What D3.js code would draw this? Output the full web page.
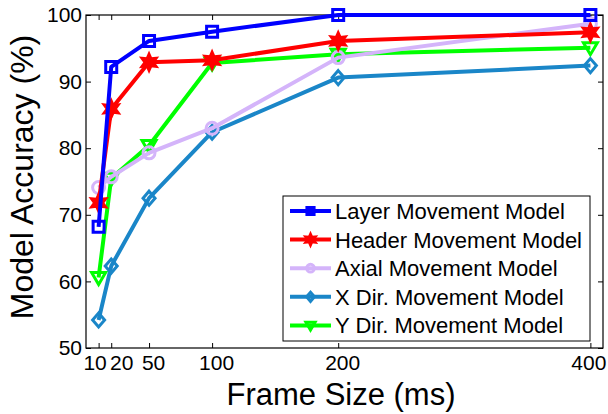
<!DOCTYPE html>
<html>
<head>
<meta charset="utf-8">
<script src="https://cdn.jsdelivr.net/npm/d3@7"></script>
<style>
body { margin: 0; background: #fff; }
text { font-family: "Liberation Sans", Arial, sans-serif; }
</style>
</head>
<body>
<div id="chart"></div>
<script>
// Data
var frameSizes = [10, 20, 50, 100, 200, 400];
var seriesNames = ["Layer Movement Model", "Header Movement Model", "Axial Movement Model", "X Dir. Movement Model", "Y Dir. Movement Model"];
var layerAcc = [68.2, 92.2, 96.1, 97.5, 100, 100];
var headerAcc = [71.8, 85.9, 92.9, 93.2, 96.1, 97.4];
var axialAcc = [74.1, 75.7, 79.3, 83.0, 93.6, 98.7];
var xDirAcc = [54.2, 62.3, 72.5, 82.4, 90.6, 92.4];
var yDirAcc = [60.6, 75.5, 80.4, 92.8, 94.1, 95.1];
var yTicks = [50, 60, 70, 80, 90, 100];

var colors = ["#0000ff", "#ff0000", "#d4b4fa", "#1a86c8", "#00ff00"];
var symbols = ["square", "star", "circle", "diamond", "triangle"];
var allSeries = [layerAcc, headerAcc, axialAcc, xDirAcc, yDirAcc];

var W = 608, H = 414;
var margin = {left: 86, right: 5, top: 15, bottom: 66};

var svg = d3.select("#chart").append("svg")
    .attr("width", W).attr("height", H);

var x = d3.scaleLinear().domain([0, 410]).range([margin.left, W - margin.right]);
var y = d3.scaleLinear().domain([50, 100]).range([H - margin.bottom, margin.top]);

// box + ticks
var g = svg.append("g");
g.append("rect")
    .attr("x", x(0)).attr("y", y(100))
    .attr("width", x(410) - x(0)).attr("height", y(50) - y(100))
    .attr("fill", "none").attr("stroke", "#000").attr("stroke-width", 1.2);

var xAxis = d3.axisBottom(x).tickValues(frameSizes).tickSize(-5).tickPadding(7).tickSizeOuter(0);
var yAxis = d3.axisLeft(y).tickValues(yTicks).tickSize(-5).tickPadding(4).tickSizeOuter(0);

var gx = g.append("g").attr("transform", "translate(0," + y(50) + ")").call(xAxis);
var gy = g.append("g").attr("transform", "translate(" + x(0) + ",0)").call(yAxis);
g.append("g").attr("transform", "translate(" + x(410) + ",0)")
    .call(d3.axisRight(y).tickValues(yTicks).tickSize(-5).tickFormat("").tickSizeOuter(0));
g.append("g").attr("transform", "translate(0," + y(100) + ")")
    .call(d3.axisTop(x).tickValues(frameSizes).tickSize(-5).tickFormat("").tickSizeOuter(0));

g.selectAll(".domain").remove();
g.selectAll(".tick line").attr("stroke", "#000").attr("stroke-width", 1);
gx.selectAll("text").attr("font-size", 21).attr("fill", "#000")
    .attr("dx", function(d) { return d == 10 ? -4 : d == 20 ? 10 : d == 400 ? -2 : 4; });
gy.selectAll("text").attr("font-size", 21).attr("fill", "#000");

// axis titles
svg.append("text")
    .attr("x", 341).attr("y", 405)
    .attr("text-anchor", "middle")
    .attr("font-size", 31)
    .text("Frame Size (ms)");
svg.append("text")
    .attr("transform", "translate(33,177) rotate(-90)")
    .attr("text-anchor", "middle")
    .attr("font-size", 32)
    .text("Model Accuracy (%)");

function starPath(ro, ri) {
    var pts = [];
    for (var k = 0; k < 12; k++) {
        var r = k % 2 == 0 ? ro : ri;
        var a = -Math.PI / 2 + k * Math.PI / 6;
        pts.push([r * Math.cos(a), r * Math.sin(a)]);
    }
    return "M" + pts.join("L") + "Z";
}

function markerPath(sym, k) {
    if (sym == "square") return "M" + (-5.5 * k) + "," + (-5.5 * k) + "h" + 11 * k + "v" + 11 * k + "h" + (-11 * k) + "Z";
    if (sym == "star") return starPath(8 * k, 4 * k);
    if (sym == "circle") return d3.arc()({innerRadius: 0, outerRadius: 6 * k, startAngle: 0, endAngle: 2 * Math.PI});
    if (sym == "diamond") return "M0," + (-7 * k) + "L" + 6 * k + ",0L0," + 7 * k + "L" + (-6 * k) + ",0Z";
    return "M" + (-7 * k) + "," + (-5 * k) + "L" + 7 * k + "," + (-5 * k) + "L0," + 7 * k + "Z";
}

var line = d3.line()
    .x(function(d, i) { return x(frameSizes[i]); })
    .y(function(d) { return y(d); });

var plot = svg.append("g");
// draw in reverse so blue ends on top
for (var s = allSeries.length - 1; s >= 0; s--) {
    plot.append("path")
        .attr("d", line(allSeries[s]))
        .attr("fill", "none")
        .attr("stroke", colors[s])
        .attr("stroke-width", 4)
        .attr("stroke-linejoin", "round");
    plot.selectAll(".m" + s)
        .data(allSeries[s])
        .enter().append("path")
        .attr("transform", function(d, i) { return "translate(" + x(frameSizes[i]) + "," + y(d) + ")"; })
        .attr("d", markerPath(symbols[s], 1))
        .attr("fill", symbols[s] == "star" ? colors[s] : "none")
        .attr("stroke", colors[s])
        .attr("stroke-width", 3);
}

// legend
var lg = svg.append("g");
lg.append("rect")
    .attr("x", 283).attr("y", 196).attr("width", 307).attr("height", 145)
    .attr("fill", "#fff").attr("stroke", "#000").attr("stroke-width", 1);
seriesNames.forEach(function(name, i) {
    var ly = 211 + i * 28.6;
    lg.append("line")
        .attr("x1", 290).attr("x2", 331).attr("y1", ly).attr("y2", ly)
        .attr("stroke", colors[i]).attr("stroke-width", 4);
    lg.append("path")
        .attr("transform", "translate(310.5," + ly + ")")
        .attr("d", markerPath(symbols[i], 0.65))
        .attr("fill", symbols[i] == "star" ? colors[i] : "none")
        .attr("stroke", colors[i]).attr("stroke-width", 3);
    lg.append("text")
        .attr("x", 335).attr("y", ly + 8)
        .attr("font-size", 22)
        .text(name);
});
</script>
</body>
</html>
